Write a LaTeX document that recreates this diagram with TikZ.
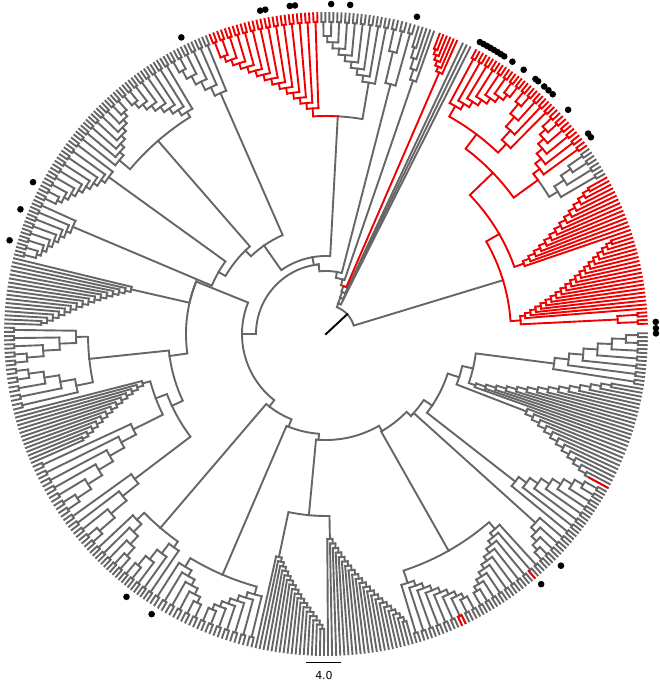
\documentclass[tikz,border=0pt]{standalone}
\usepackage{fontspec}
\setmainfont{DejaVu Sans}
\definecolor{treegrey}{RGB}{102,102,102}
\definecolor{treered}{RGB}{240,0,0}
\tikzset{every picture/.style={line width=1.9pt}}

% tip radius and cherry radius
\newcommand{\Rt}{321}
\newcommand{\Rc}{312}
% arc at radius #1 from angle #2 to #3, then out to radius #4
\newcommand{\lnk}[4]{\draw (#2:#1pt) arc[start angle=#2,end angle=#3,radius=#1pt] -- (#3:#4pt);}
% one tip (or a cherry) at angle #1 from radius #2
\newcommand{\unit}[4]{%
  \ifnum#3=1
    \pgfmathsetmacro\cUa{#1-#4/4}\pgfmathsetmacro\cUb{#1+#4/4}%
    \draw (#1:#2pt) -- (#1:\Rc pt);
    \draw (\cUa:\Rt pt) -- (\cUa:\Rc pt) arc[start angle=\cUa,end angle=\cUb,radius=\Rc pt] -- (\cUb:\Rt pt);
  \else
    \draw (#1:#2pt) -- (#1:\Rt pt);
  \fi}
% ladder clade: tips #1..#2, #3 units, node radii #4..#5, cherries #6, parent radius #7 and angle #8
\newcommand{\comb}[8]{%
  \pgfmathsetmacro\cW{(#2-#1)/#3}%
  \pgfmathsetmacro\cP{#1+\cW*(1.5-2^(1-#3))}%
  \lnk{#7}{#8}{\cP}{#4}%
  \ifnum#3=1
    \unit{\cP}{#4}{#6}{\cW}%
  \else
    \pgfmathtruncatemacro\cM{#3-2}%
    \foreach \k in {0,...,\cM}{%
      \pgfmathsetmacro\cT{#1+(\k+0.5)*\cW}%
      \pgfmathsetmacro\cN{#1+(\k+1.5)*\cW+\cW*(1-2^(\k+2-#3))}%
      \pgfmathsetmacro\cR{#4+(#5-#4)*\k/max(#3-2,1)}%
      \pgfmathsetmacro\cS{#4+(#5-#4)*(\k+1)/max(#3-2,1)}%
      \draw (\cT:\cR pt) arc[start angle=\cT,end angle=\cN,radius=\cR pt];
      \unit{\cT}{\cR}{#6}{\cW}%
      \ifnum\k=\cM
        \unit{\cN}{\cR}{#6}{\cW}%
      \else
        \draw (\cN:\cR pt) -- (\cN:\cS pt);
      \fi
    }%
  \fi}

\begin{document}
\begin{tikzpicture}[x=1pt,y=1pt,line cap=rect]
\useasboundingbox (-326,-347) rectangle (334,334);

\begin{scope}[color=treegrey]
% Root
\draw (16.9:185pt) -- (16.9:29pt) arc[start angle=16.9,end angle=68,radius=29pt] -- (68:33pt);
% small ladder at the top
\lnk{33}{68}{63.3}{\Rt}
\lnk{33}{68}{68.5}{39}
\lnk{39}{68.5}{64.05}{\Rt}
\lnk{39}{68.5}{69}{45}
\lnk{45}{69}{64.8}{\Rt}
\lnk{45}{69}{70}{51}
\lnk{51}{70}{73}{57}
\comb{70}{73.6}{5}{268}{300}{0}{57}{73}
\lnk{57}{73}{80}{63}
\comb{73.6}{78.2}{3}{258}{290}{1}{63}{80}
\lnk{63}{80}{96}{70}
% inner arcs
\lnk{70}{96}{100}{78}
\lnk{70}{96}{180}{84}
\lnk{78}{100}{86.9}{218}
\lnk{78}{100}{125}{108}
\comb{78.2}{91.2}{9}{255}{298}{1}{218}{86.9}
% upper left
\comb{111.6}{120}{6}{263}{300}{1}{108}{125}
\lnk{108}{125}{134}{116}
\lnk{116}{134}{131}{256}
\comb{120}{131}{8}{262}{300}{1}{256}{131}
\comb{142}{131}{8}{270}{300}{1}{256}{131}
\lnk{116}{134}{150}{124}
\comb{142}{155}{9}{268}{300}{1}{124}{150}
\comb{155}{166}{8}{275}{300}{1}{124}{150}
% left
\lnk{84}{180}{158}{140}
\lnk{84}{180}{232}{92}
\comb{166}{178.5}{17}{200}{285}{0}{140}{158}
\lnk{140}{158}{188}{158}
\lnk{158}{188}{186}{238}
\comb{178.5}{186}{5}{250}{300}{1}{238}{186}
\comb{194}{186}{5}{255}{300}{1}{238}{186}
\lnk{158}{188}{205}{170}
\lnk{170}{205}{200.7}{182}
\comb{194}{204}{14}{190}{265}{0}{182}{200.7}
\comb{204}{215}{7}{215}{298}{1}{182}{200.7}
\comb{215}{222.5}{5}{240}{300}{1}{170}{205}
% bottom
\lnk{92}{232}{229.5}{255}
\comb{222.5}{229.5}{5}{265}{298}{1}{255}{229.5}
\comb{236.5}{229.5}{5}{262}{298}{1}{255}{229.5}
\lnk{92}{232}{248}{100}
\lnk{100}{248}{246.75}{262}
\comb{236.5}{246}{6}{272}{298}{1}{262}{246.75}
\comb{257}{246}{7}{270}{298}{1}{262}{246.75}
\lnk{100}{248}{266}{106}
\lnk{106}{266}{264.6}{182}
\comb{257}{270}{18}{228}{295}{0}{182}{264.6}
\comb{270}{286}{22}{205}{298}{0}{182}{264.6}
\lnk{106}{266}{300}{112}
\lnk{112}{300}{299.5}{249}
\comb{286}{299}{9}{262}{298}{1}{249}{299.5}
\comb{313}{299}{10}{258}{298}{1}{249}{299.5}
% bottom right
\lnk{112}{300}{316}{118}
\comb{320}{313}{5}{282}{302}{1}{118}{316}
\lnk{118}{316}{326}{128}
\comb{320}{331}{8}{240}{298}{1}{128}{326}
\lnk{128}{326}{342}{140}
\comb{340}{331}{12}{215}{295}{0}{140}{342}
\lnk{140}{342}{346.8}{151}
\comb{340}{350.5}{15}{158}{290}{0}{151}{346.8}
\comb{350.5}{360.5}{7}{230}{300}{1}{151}{346.8}
% grey clade inside the red one
\comb{29.5}{35.5}{4}{272}{295}{1}{262}{36}
\end{scope}

\begin{scope}[color=treered]
\comb{65.6}{69.6}{6}{285}{305}{0}{51}{70}
\comb{91.2}{111.6}{14}{226}{296}{1}{218}{86.9}
% red clade on the right
\lnk{185}{16.9}{4}{195}
\comb{1.5}{4.2}{2}{292}{292}{1}{195}{4}
\comb{4.2}{18.5}{20}{200}{300}{0}{195}{4}
\lnk{185}{16.9}{30}{200}
\comb{18.5}{29.5}{15}{210}{300}{0}{200}{30}
\lnk{200}{30}{44}{232}
\lnk{232}{44}{36}{262}
\comb{35.5}{44.5}{6}{270}{300}{1}{262}{36}
\lnk{232}{44}{53}{250}
\comb{44.5}{51.5}{5}{262}{300}{1}{250}{53}
\comb{62.5}{51.5}{8}{262}{300}{1}{250}{53}
% single red tips
\draw (295.028:\Rt pt) -- (295.028:\Rc pt) arc[start angle=295.028,end angle=295.75,radius=\Rc pt] -- (295.75:\Rt pt);
\draw (310.55:\Rc pt) -- (310.55:\Rt pt);
\draw (331.375:300pt) -- (331.375:\Rt pt);
\end{scope}

% root stub
\draw[black] (0,0) -- (43:29pt);

% markers
\foreach \a in {62.2,61.5,60.8,60.1,59.4,58.7,58,57.3,55.6,53.2,50.6,50,48.6,47.6,46.6,42.8,37.4,36.6,2.1,1,0.1,
  74,85.8,89.1,95.4,96.3,100.6,101.5,116,152.6,157.8,163.5,232.8,238.1,310.7,315.4}
  \fill[black] (\a:330pt) circle (3.3pt);

% scale bar
\coordinate (bar west) at (-19.5,-328.5);
\coordinate (bar east) at (15,-328.5);
\draw[black,line width=1.3pt,line cap=butt] (bar west) -- (bar east);
\node[font=\fontsize{11}{13}\selectfont,inner sep=0pt] (scale label) at (-2,-341) {4.0};

\end{tikzpicture}
\end{document}
